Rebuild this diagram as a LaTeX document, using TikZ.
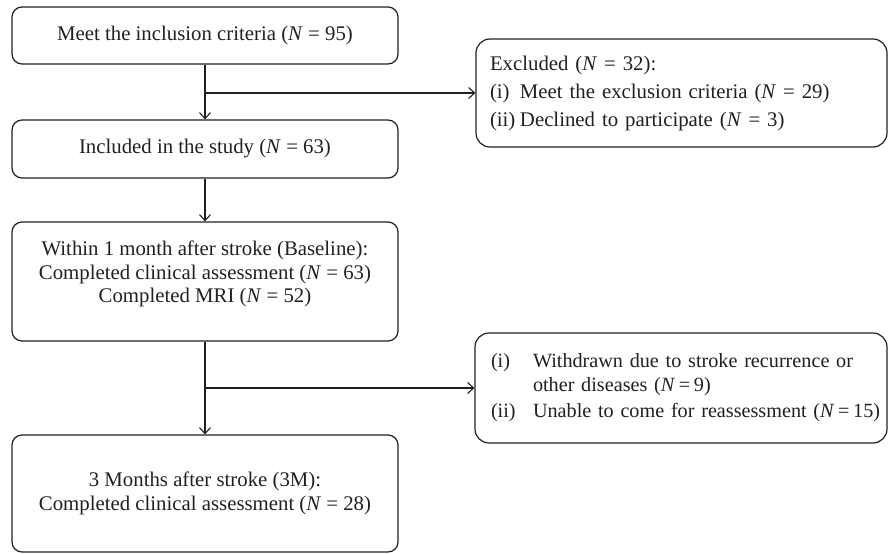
\documentclass[tikz,border=0pt]{standalone}
\usepackage{fontspec}
\setmainfont{Liberation Serif}
\usetikzlibrary{arrows.meta,calc}
\definecolor{ln}{HTML}{231F20}
\newcommand\tighteq{\hspace{0.18em}=\hspace{0.18em}}
\begin{document}
\begin{tikzpicture}[x=1pt,y=-1pt,
  txtfont/.style={font=\fontsize{20.8}{23.5}\selectfont, text=ln},
  box/.style={draw=ln, line width=1.2pt, rounded corners=10pt, minimum width=386pt, inner sep=0pt, align=center, txtfont},
  boxtext/.style={inner sep=0pt, align=center, txtfont},
  sidebox/.style={draw=ln, line width=1.2pt, rounded corners=14pt, inner ysep=0pt, align=left, txtfont},
  arr/.style={draw=ln, line width=1.1pt, -{Straight Barb[length=6pt,width=11pt,line width=1.1pt]}}]
\useasboundingbox (0,0) rectangle (889,554);

\node[box, minimum height=57pt] (b1) at (205,35.5) {Meet the inclusion criteria (\textit{N} = 95)};
\node[box, minimum height=58pt] (b2) at (205,149) {Included in the study (\textit{N} = 63)};
\node[box, minimum height=119pt] (b3) at (205,281.5) {};
\node[boxtext] (b3t) at (205,274) {Within 1 month after stroke (Baseline):\\Completed clinical assessment (\textit{N} = 63)\\Completed MRI (\textit{N} = 52)};
\node[box, minimum height=117pt] (b4) at (205,493.5) {3 Months after stroke (3M):\\Completed clinical assessment (\textit{N} = 28)};

\node[sidebox, minimum height=108pt, inner xsep=14pt, text width=383pt] (e1) at (681.5,93)
  {\mbox{Excluded (\textit{N} = 32):}\\[4.5pt]
   \mbox{\makebox[30pt][l]{(i)}Meet the exclusion criteria (\textit{N} = 29)}\\[4.5pt]
   \mbox{\makebox[30pt][l]{(ii)}Declined to participate (\textit{N} = 3)}};
\node[sidebox, minimum height=110pt, inner xsep=16pt, text width=380pt,
      font=\fontsize{20.2}{23.5}\selectfont] (e2) at (681,388)
  {\mbox{\makebox[42pt][l]{(i)}Withdrawn due to stroke recurrence or}\\
   \mbox{\hspace*{42pt}other diseases (\textit{N}\tighteq 9)}\\[3pt]
   \mbox{\makebox[42pt][l]{(ii)}Unable to come for reassessment (\textit{N}\tighteq 15)}};

\coordinate (j1) at (b1.south |- e1.west);
\coordinate (j2) at (b3.south |- e2.west);
\draw[arr] (b1) -- (b2);
\draw[arr] (b2) -- (b3);
\draw[arr] (b3) -- (b4);
\draw[arr] (j1) -- (e1.west);
\draw[arr] (j2) -- (e2.west);
\end{tikzpicture}
\end{document}
